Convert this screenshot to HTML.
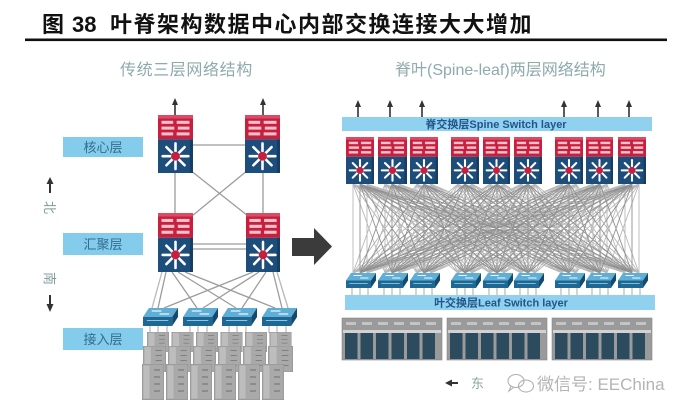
<!DOCTYPE html>
<html><head><meta charset="utf-8"><style>
html,body{margin:0;padding:0;background:#fff;}
svg{display:block;}
text{font-family:"Liberation Sans","Noto Sans CJK SC",sans-serif;}
</style></head><body>
<svg width="687" height="415" viewBox="0 0 687 415" xmlns="http://www.w3.org/2000/svg">
<defs>
<symbol id="sw" viewBox="0 0 30 50" preserveAspectRatio="none">
<rect x="0" y="0" width="30" height="21" fill="#c81f3e"/>
<rect x="0" y="0" width="30" height="3" fill="#dc4a66"/>
<rect x="3" y="5" width="10" height="2.6" fill="#f6c3cd"/><rect x="16" y="5" width="11" height="2.6" fill="#f6c3cd"/>
<rect x="3" y="10" width="11" height="2.6" fill="#f6c3cd"/><rect x="17" y="10" width="10" height="2.6" fill="#f6c3cd"/>
<rect x="3" y="15" width="10" height="2.6" fill="#f6c3cd"/><rect x="16" y="15" width="11" height="2.6" fill="#f6c3cd"/>
<rect x="0" y="21" width="30" height="29" fill="#1d4d7b"/>
<rect x="27.5" y="21" width="2.5" height="29" fill="#163d63"/>
<g stroke="#fff" stroke-width="2.2" stroke-linecap="round">
<line x1="15" y1="35.5" x2="26" y2="35.5"/><line x1="15" y1="35.5" x2="22.8" y2="43.3"/>
<line x1="15" y1="35.5" x2="15" y2="46.5"/><line x1="15" y1="35.5" x2="7.2" y2="43.3"/>
<line x1="15" y1="35.5" x2="4" y2="35.5"/><line x1="15" y1="35.5" x2="7.2" y2="27.7"/>
<line x1="15" y1="35.5" x2="15" y2="24.5"/><line x1="15" y1="35.5" x2="22.8" y2="27.7"/>
</g>
<circle cx="15" cy="35.5" r="3.8" fill="#c81f3e"/>
</symbol>
<symbol id="acc" viewBox="0 0 36 18" preserveAspectRatio="none">
<polygon points="6,0 36,0 30,9 0,9" fill="#5eaed6"/>
<polygon points="0,9 30,9 30,18 0,18" fill="#1f6893"/>
<polygon points="30,9 36,0 36,9 30,18" fill="#134a6e"/>
<g stroke="#fff" stroke-width="1.1">
<line x1="9" y1="3" x2="19" y2="3"/><line x1="17" y1="6" x2="27" y2="6"/>
<line x1="4" y1="12.5" x2="26" y2="12.5" stroke="#8cc6e4"/>
</g>
</symbol>
<symbol id="srv" viewBox="0 0 22 36" preserveAspectRatio="none">
<rect x="0" y="0" width="22" height="36" fill="#a9a9a9" stroke="#8a8a8a" stroke-width="0.8"/>
<rect x="1.5" y="1.5" width="6" height="33" fill="#bdbdbd"/>
<g stroke="#6f6f6f" stroke-width="1">
<line x1="12" y1="6" x2="18" y2="6"/><line x1="12" y1="13" x2="18" y2="13"/>
<line x1="12" y1="20" x2="18" y2="20"/><line x1="12" y1="27" x2="18" y2="27"/>
</g>
</symbol>
<path id="mesh" fill="none" d="M360 184L360 273M360 184L392 273M360 184L424 273M360 184L465 273M360 184L497 273M360 184L528 273M360 184L569 273M360 184L600 273M360 184L632 273
M392 184L360 273M392 184L392 273M392 184L424 273M392 184L465 273M392 184L497 273M392 184L528 273M392 184L569 273M392 184L600 273M392 184L632 273
M424 184L360 273M424 184L392 273M424 184L424 273M424 184L465 273M424 184L497 273M424 184L528 273M424 184L569 273M424 184L600 273M424 184L632 273
M465 184L360 273M465 184L392 273M465 184L424 273M465 184L465 273M465 184L497 273M465 184L528 273M465 184L569 273M465 184L600 273M465 184L632 273
M497 184L360 273M497 184L392 273M497 184L424 273M497 184L465 273M497 184L497 273M497 184L528 273M497 184L569 273M497 184L600 273M497 184L632 273
M528 184L360 273M528 184L392 273M528 184L424 273M528 184L465 273M528 184L497 273M528 184L528 273M528 184L569 273M528 184L600 273M528 184L632 273
M569 184L360 273M569 184L392 273M569 184L424 273M569 184L465 273M569 184L497 273M569 184L528 273M569 184L569 273M569 184L600 273M569 184L632 273
M600 184L360 273M600 184L392 273M600 184L424 273M600 184L465 273M600 184L497 273M600 184L528 273M600 184L569 273M600 184L600 273M600 184L632 273
M632 184L360 273M632 184L392 273M632 184L424 273M632 184L465 273M632 184L497 273M632 184L528 273M632 184L569 273M632 184L600 273M632 184L632 273"/>
<g id="rack">
<rect x="0" y="0" width="100" height="42" fill="#9a9a9a" stroke="#888" stroke-width="0.6"/>
<g fill="#c4c4c4">
<rect x="4" y="4" width="10" height="3"/><rect x="20" y="4" width="10" height="3"/><rect x="36" y="4" width="10" height="3"/><rect x="52" y="4" width="10" height="3"/><rect x="68" y="4" width="10" height="3"/><rect x="84" y="4" width="10" height="3"/>
</g>
<rect x="1" y="12" width="98" height="3" fill="#d2d2d2"/>
<g fill="#2d4b5f">
<rect x="3" y="15" width="12.5" height="26"/><rect x="18.5" y="15" width="12.5" height="26"/><rect x="34" y="15" width="12.5" height="26"/><rect x="49.5" y="15" width="12.5" height="26"/><rect x="65" y="15" width="12.5" height="26"/><rect x="80.5" y="15" width="12.5" height="26"/>
</g>
</g>
</defs>

<!-- Title -->
<text x="42" y="32" font-size="22" font-weight="bold" fill="#111">图</text>
<text x="72" y="32" font-size="22" font-weight="bold" fill="#111">38</text>
<text x="110" y="32" font-size="22" font-weight="bold" fill="#111" letter-spacing="1.5">叶脊架构数据中心内部交换连接大大增加</text>
<rect x="25" y="38.5" width="642" height="2.6" fill="#111"/>

<!-- Subtitles -->
<text x="120" y="75" font-size="16" fill="#8eaaac" letter-spacing="0.6">传统三层网络结构</text>
<text x="395" y="75" font-size="16" fill="#8eaaac">脊叶(Spine-leaf)两层网络结构</text>

<!-- Left: labels -->
<rect x="63" y="137" width="80" height="20" fill="#84cceb"/>
<text x="103" y="152" font-size="13" fill="#336c90" text-anchor="middle">核心层</text>
<rect x="63" y="233" width="80" height="22" fill="#84cceb"/>
<text x="103" y="249" font-size="13" fill="#336c90" text-anchor="middle">汇聚层</text>
<rect x="63" y="328" width="80" height="22" fill="#84cceb"/>
<text x="103" y="344" font-size="13" fill="#336c90" text-anchor="middle">接入层</text>

<!-- north/south -->
<line x1="50" y1="193" x2="50" y2="182" stroke="#333" stroke-width="2"/>
<polygon points="46.5,184 53.5,184 50,177" fill="#333"/>
<text x="0" y="0" font-size="13" fill="#7f9c9c" transform="translate(45,201) rotate(90)">北</text>
<text x="0" y="0" font-size="13" fill="#7f9c9c" transform="translate(45,272) rotate(90)">南</text>
<line x1="50" y1="295" x2="50" y2="306" stroke="#333" stroke-width="2"/>
<polygon points="46.5,304 53.5,304 50,312" fill="#333"/>

<!-- Left connectors -->
<g stroke="#9c9c9c" stroke-width="1.3" fill="none">
<line x1="193" y1="145" x2="245" y2="145"/>
<line x1="175" y1="173" x2="175" y2="213"/>
<line x1="263" y1="173" x2="263" y2="213"/>
<line x1="190" y1="170" x2="248" y2="216"/>
<line x1="248" y1="170" x2="192" y2="216"/>
<line x1="193" y1="244" x2="246" y2="244"/>
<line x1="193" y1="249" x2="246" y2="249"/>
<line x1="166" y1="272" x2="158" y2="308"/>
<line x1="172" y1="272" x2="197" y2="308"/>
<line x1="178" y1="272" x2="236" y2="308"/>
<line x1="185" y1="272" x2="275" y2="308"/>
<line x1="253" y1="272" x2="164" y2="308"/>
<line x1="259" y1="272" x2="203" y2="308"/>
<line x1="266" y1="272" x2="242" y2="308"/>
<line x1="273" y1="272" x2="282" y2="308"/>
<line x1="162" y1="272" x2="152" y2="308" stroke="#b8b8b8"/>
<line x1="277" y1="272" x2="288" y2="308" stroke="#b8b8b8"/>
</g>
<g stroke="#a8a8a8" stroke-width="1">
<line x1="150" y1="326" x2="150" y2="333"/><line x1="158" y1="326" x2="158" y2="333"/><line x1="167" y1="326" x2="167" y2="333"/>
<line x1="190" y1="326" x2="190" y2="333"/><line x1="198" y1="326" x2="198" y2="333"/><line x1="207" y1="326" x2="207" y2="333"/>
<line x1="229" y1="326" x2="229" y2="333"/><line x1="237" y1="326" x2="237" y2="333"/><line x1="246" y1="326" x2="246" y2="333"/>
<line x1="269" y1="326" x2="269" y2="333"/><line x1="277" y1="326" x2="277" y2="333"/><line x1="286" y1="326" x2="286" y2="333"/>
</g>

<!-- Left arrows up -->
<g fill="#333" stroke="#333">
<line x1="175" y1="115" x2="175" y2="103" stroke-width="1.6"/><polygon points="172,105 178,105 175,98" stroke="none"/>
<line x1="263" y1="115" x2="263" y2="103" stroke-width="1.6"/><polygon points="260,105 266,105 263,98" stroke="none"/>
</g>

<!-- Left switches -->
<use href="#sw" x="158" y="115" width="35" height="58"/>
<use href="#sw" x="245" y="115" width="35" height="58"/>
<use href="#sw" x="158" y="213" width="35" height="59"/>
<use href="#sw" x="246" y="213" width="34" height="59"/>

<!-- Left servers -->
<g>
<use href="#srv" x="147" y="332" width="22" height="20"/><use href="#srv" x="171.5" y="332" width="22" height="20"/><use href="#srv" x="196" y="332" width="22" height="20"/><use href="#srv" x="220.5" y="332" width="22" height="20"/><use href="#srv" x="245" y="332" width="22" height="20"/><use href="#srv" x="269.5" y="332" width="22" height="20"/>
<use href="#srv" x="143" y="346" width="23" height="26"/><use href="#srv" x="168" y="346" width="23" height="26"/><use href="#srv" x="193" y="346" width="23" height="26"/><use href="#srv" x="218" y="346" width="23" height="26"/><use href="#srv" x="243" y="346" width="23" height="26"/><use href="#srv" x="268" y="346" width="25" height="26"/>
<use href="#srv" x="142" y="364" width="22" height="36"/><use href="#srv" x="166" y="364" width="22" height="36"/><use href="#srv" x="190" y="364" width="22" height="36"/><use href="#srv" x="214" y="364" width="22" height="36"/><use href="#srv" x="238" y="364" width="22" height="36"/><use href="#srv" x="262" y="364" width="22" height="36"/>
</g>

<!-- Left access switches -->
<use href="#acc" x="143" y="308" width="35" height="18"/>
<use href="#acc" x="183" y="308" width="35" height="18"/>
<use href="#acc" x="222" y="308" width="35" height="18"/>
<use href="#acc" x="262" y="308" width="35" height="18"/>

<!-- Big arrow -->
<polygon points="292,238 314,238 314,228 332,246.5 314,265 314,256 292,256" fill="#3b3b3b"/>

<!-- Right: mesh -->
<use href="#mesh" stroke="#b8b8b8" stroke-width="0.9" x="7"/>
<use href="#mesh" stroke="#b8b8b8" stroke-width="0.9" x="-7"/>
<use href="#mesh" stroke="#909090" stroke-width="0.9"/>

<!-- Spine arrows -->
<g fill="#333" stroke="#333">
<line x1="358" y1="117" x2="358" y2="105" stroke-width="1.6"/><polygon points="355,107 361,107 358,100" stroke="none"/>
<line x1="390" y1="117" x2="390" y2="105" stroke-width="1.6"/><polygon points="387,107 393,107 390,100" stroke="none"/>
<line x1="422" y1="117" x2="422" y2="105" stroke-width="1.6"/><polygon points="419,107 425,107 422,100" stroke="none"/>
<line x1="564" y1="117" x2="564" y2="105" stroke-width="1.6"/><polygon points="561,107 567,107 564,100" stroke="none"/>
<line x1="598" y1="117" x2="598" y2="105" stroke-width="1.6"/><polygon points="595,107 601,107 598,100" stroke="none"/>
<line x1="629" y1="117" x2="629" y2="105" stroke-width="1.6"/><polygon points="626,107 632,107 629,100" stroke="none"/>
</g>

<!-- Spine bar -->
<rect x="342" y="117" width="310" height="14" fill="#8fd1ee"/>
<text x="496" y="128" font-size="11" font-weight="bold" fill="#24558a" text-anchor="middle">脊交换层Spine Switch layer</text>

<!-- Spine switches -->
<use href="#sw" x="346" y="137" width="28" height="47"/>
<use href="#sw" x="378" y="137" width="29" height="47"/>
<use href="#sw" x="410" y="137" width="28" height="47"/>
<use href="#sw" x="451" y="137" width="28" height="47"/>
<use href="#sw" x="483" y="137" width="27" height="47"/>
<use href="#sw" x="514" y="137" width="28" height="47"/>
<use href="#sw" x="555" y="137" width="28" height="47"/>
<use href="#sw" x="586" y="137" width="27" height="47"/>
<use href="#sw" x="618" y="137" width="28" height="47"/>

<!-- Leaf to bar small lines -->
<g stroke="#a8a8a8" stroke-width="1">
<line x1="352" y1="288" x2="352" y2="295"/><line x1="360" y1="288" x2="360" y2="295"/><line x1="368" y1="288" x2="368" y2="295"/>
<line x1="384" y1="288" x2="384" y2="295"/><line x1="392" y1="288" x2="392" y2="295"/><line x1="400" y1="288" x2="400" y2="295"/>
<line x1="416" y1="288" x2="416" y2="295"/><line x1="424" y1="288" x2="424" y2="295"/><line x1="432" y1="288" x2="432" y2="295"/>
<line x1="457" y1="288" x2="457" y2="295"/><line x1="465" y1="288" x2="465" y2="295"/><line x1="473" y1="288" x2="473" y2="295"/>
<line x1="489" y1="288" x2="489" y2="295"/><line x1="497" y1="288" x2="497" y2="295"/><line x1="505" y1="288" x2="505" y2="295"/>
<line x1="520" y1="288" x2="520" y2="295"/><line x1="528" y1="288" x2="528" y2="295"/><line x1="536" y1="288" x2="536" y2="295"/>
<line x1="561" y1="288" x2="561" y2="295"/><line x1="569" y1="288" x2="569" y2="295"/><line x1="577" y1="288" x2="577" y2="295"/>
<line x1="592" y1="288" x2="592" y2="295"/><line x1="600" y1="288" x2="600" y2="295"/><line x1="608" y1="288" x2="608" y2="295"/>
<line x1="624" y1="288" x2="624" y2="295"/><line x1="632" y1="288" x2="632" y2="295"/><line x1="640" y1="288" x2="640" y2="295"/>
</g>

<!-- Leaf switches -->
<use href="#acc" x="346" y="273" width="30" height="15"/>
<use href="#acc" x="378" y="273" width="30" height="15"/>
<use href="#acc" x="410" y="273" width="30" height="15"/>
<use href="#acc" x="451" y="273" width="30" height="15"/>
<use href="#acc" x="483" y="273" width="30" height="15"/>
<use href="#acc" x="514" y="273" width="30" height="15"/>
<use href="#acc" x="555" y="273" width="30" height="15"/>
<use href="#acc" x="586" y="273" width="30" height="15"/>
<use href="#acc" x="618" y="273" width="30" height="15"/>

<!-- Leaf bar -->
<rect x="345" y="295" width="310" height="15" fill="#8fd1ee"/>
<text x="501" y="306.5" font-size="11" font-weight="bold" fill="#24558a" text-anchor="middle">叶交换层Leaf Switch layer</text>

<!-- Racks -->
<use href="#rack" x="342" y="318"/>
<use href="#rack" x="447" y="318"/>
<use href="#rack" x="552" y="318"/>

<!-- East -->
<line x1="450" y1="383" x2="458" y2="383" stroke="#333" stroke-width="2"/>
<polygon points="452,379.5 452,386.5 445,383" fill="#333"/>
<text x="471" y="388" font-size="13" fill="#8aa6a6">东</text>

<!-- Watermark -->
<g fill="none" stroke="#b0b0b0" stroke-width="1.1">
<ellipse cx="516" cy="381" rx="8" ry="6.5"/>
<ellipse cx="526" cy="386" rx="7.5" ry="6"/>
<path d="M511 386 L509 391 L514 387"/>
</g>
<text x="537" y="390" font-size="17" fill="#b4b4b4">微信号: EEChina</text>
</svg>
</body></html>
